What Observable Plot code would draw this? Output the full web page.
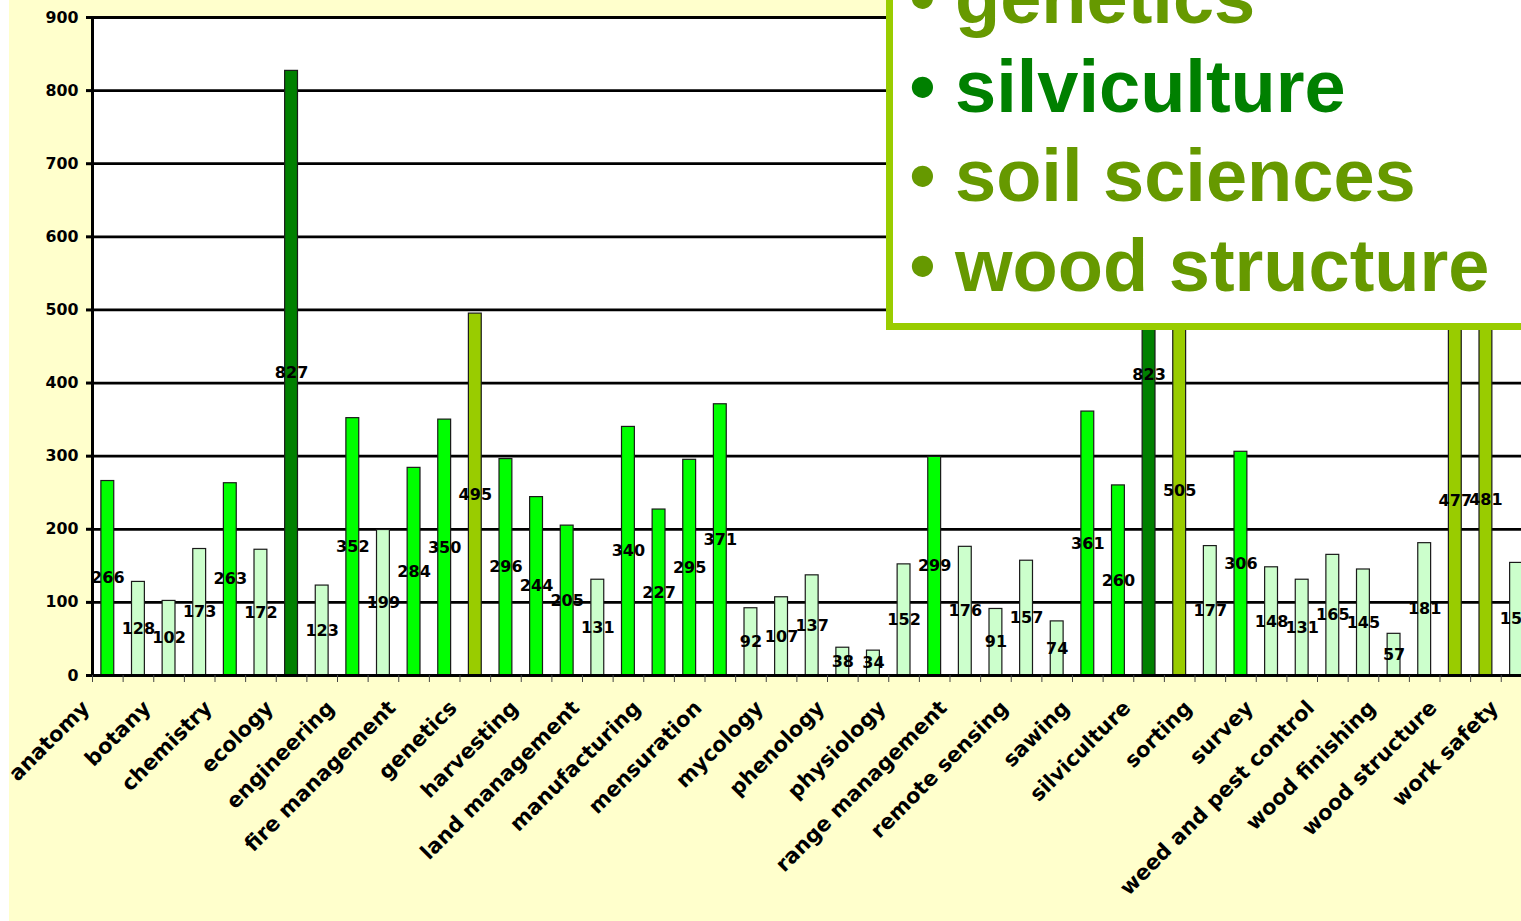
<!DOCTYPE html>
<html>
<head>
<meta charset="utf-8">
<script src="https://cdn.jsdelivr.net/npm/d3@7"></script>
<script src="https://cdn.jsdelivr.net/npm/@observablehq/plot@0.6"></script>
<style>
  html, body { margin: 0; padding: 0; background: #ffffff; overflow: hidden; }
  body { width: 1521px; height: 921px; position: relative; }
  #bg { position: absolute; left: 9px; top: 0; width: 1600px; height: 921px; background: #FFFFCC; }
  #chart { position: absolute; left: 0; top: 0; width: 1569px; height: 921px; }
  #callout { position: absolute; left: 886px; top: -100px; width: 800px; height: 430px; box-sizing: border-box;
             border: 7px solid #99CC00; background: #ffffff; }
  #items { position: absolute; left: 909.5px; top: -47.3px; font-family: "Liberation Sans", Arial, sans-serif;
           font-weight: bold; font-size: 74px; line-height: 89.3px; white-space: nowrap; }
  #items .b { display: inline-block; width: 45.5px; }
</style>
</head>
<body>
<div id="bg"></div>
<div id="chart"></div>
<div id="callout"></div>
<div id="items"></div>
<script>
// Visible category labels (every second category is labelled in the reference)
const labels = ["anatomy", "botany", "chemistry", "ecology", "engineering", "fire management",
  "genetics", "harvesting", "land management", "manufacturing", "mensuration", "mycology",
  "phenology", "physiology", "range management", "remote sensing", "sawing", "silviculture",
  "sorting", "survey", "weed and pest control", "wood finishing", "wood structure", "work safety"];
const categoryCount = 48;
// Bar values, in category order (the 48th bar lies beyond the picture's right edge)
const values = [266, 128, 102, 173, 263, 172, 827, 123, 352, 199, 284, 350, 495, 296, 244, 205,
  131, 340, 227, 295, 371, 92, 107, 137, 38, 34, 152, 299, 176, 91, 157, 74,
  361, 260, 823, 505, 177, 306, 148, 131, 165, 145, 57, 181, 477, 481, 154];
// Bar colour class for each value
const groups = ["mid", "low", "low", "low", "mid", "low", "top", "low", "mid", "low", "mid", "mid",
  "key", "mid", "mid", "mid", "low", "mid", "mid", "mid", "mid", "low", "low", "low",
  "low", "low", "low", "mid", "low", "low", "low", "low", "mid", "mid", "top", "key",
  "low", "mid", "low", "low", "low", "low", "low", "low", "key", "key", "low"];
const groupNames = ["low", "mid", "top", "key"];
const groupColors = ["#CCFFCC", "#00FF00", "#008000", "#99CC00"];
const yTicks = [0, 100, 200, 300, 400, 500, 600, 700, 800, 900];
// Callout list
const calloutItems = ["genetics", "silviculture", "soil sciences", "wood structure"];
const calloutColors = ["#669900", "#008000", "#669900", "#669900"];

const data = values.map((v, i) => ({i, v, g: groups[i]}));
const domain = d3.range(categoryCount);
const W = 1569, H = 921, mL = 92, mR = 7, mT = 17, mB = 246;
const step = (W - mL - mR) / categoryCount;

const chart = Plot.plot({
  width: W, height: H,
  marginLeft: mL, marginRight: mR, marginTop: mT, marginBottom: mB,
  style: {background: "transparent", maxWidth: "none", overflow: "hidden",
          fontFamily: "DejaVu Sans", fontWeight: "bold", color: "black"},
  x: {type: "band", domain, paddingInner: 0.58, paddingOuter: 0.29, round: false, axis: null},
  y: {domain: [0, 900], axis: null},
  color: {domain: groupNames, range: groupColors},
  marks: [
    Plot.frame({fill: "white", stroke: null}),
    Plot.gridY({ticks: yTicks, stroke: "black", strokeOpacity: 1, strokeWidth: 2.7}),
    Plot.barY(data, {x: "i", y: "v", fill: "g", stroke: "#1a1a1a", strokeWidth: 1.2}),
    Plot.frame({stroke: "black", strokeWidth: 3}),
    Plot.axisY({ticks: yTicks, label: null, tickSize: 6, tickPadding: 8, fontSize: 15.8, strokeWidth: 3}),
    Plot.axisX({ticks: domain, label: null, tickSize: 7, tickFormat: () => "", dx: -step / 2, stroke: "#444", strokeWidth: 1}),
    Plot.axisX({ticks: domain.filter(i => i % 2 === 0), label: null, tickSize: 0, tickPadding: 0, tickRotate: -45,
      textAnchor: "end", lineAnchor: "middle", tickFormat: i => labels[i / 2],
      fontSize: 21, dx: -22, dy: 29}),
    Plot.text(data, {x: "i", y: d => d.v / 2, text: d => String(d.v), fontSize: 16, fill: "black"})
  ]
});
document.getElementById("chart").appendChild(chart);

const items = d3.select("#items");
calloutItems.forEach((t, k) => {
  const row = items.append("div").style("color", calloutColors[k]);
  row.append("span").attr("class", "b").text("•");
  row.append("span").text(t);
});
</script>
</body>
</html>
